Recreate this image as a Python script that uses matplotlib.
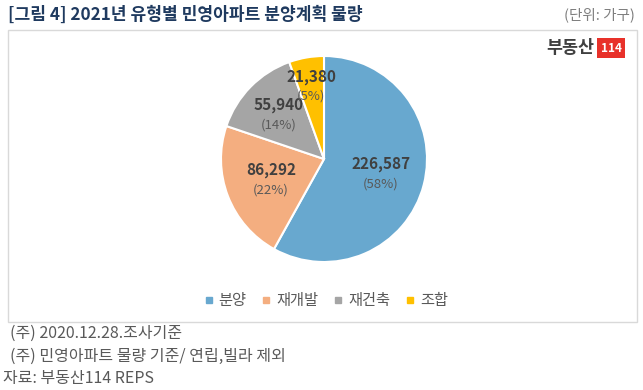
import numpy as np
import matplotlib.pyplot as plt
from matplotlib.patches import Rectangle

plt.rcParams['font.family'] = ['Noto Sans CJK KR', 'DejaVu Sans']

# 데이터
categories = ['분양', '재개발', '재건축', '조합']
values = [226587, 86292, 55940, 21380]
colors = ['#68A8CF', '#F4AE80', '#A5A5A5', '#FFC000']
label_r = [0.57, 0.55, 0.62, 0.72]

W, H = 643, 390
fig = plt.figure(figsize=(W / 100, H / 100), dpi=100)

def fx(px):
    return px / W

def fy(py):
    return 1 - py / H

# 차트 테두리
fig.patches.append(Rectangle((fx(7.5), fy(322)), fx(637) - fx(7.5), fy(30) - fy(322),
                             transform=fig.transFigure, fill=False,
                             edgecolor='#D9D9D9', lw=1.0))

# 제목
fig.text(fx(8), fy(15), '[그림 4] 2021년 유형별 민영아파트 분양계획 물량',
         fontsize=12.3, fontweight='bold', color='#1F3A5F', va='center', ha='left')
fig.text(fx(635), fy(15), '(단위: 가구)', fontsize=10.5, color='#7F7F7F',
         va='center', ha='right')

# 로고
fig.text(fx(594), fy(48), '부동산', fontsize=12.5, fontweight='bold', color='#404040',
         va='center', ha='right')
fig.text(fx(611), fy(48), '114', fontsize=8.5, fontweight='bold', color='white',
         va='center', ha='center',
         bbox=dict(boxstyle='square,pad=0.3', facecolor='#E8312A', edgecolor='none'))

# 파이
cx, cy, r = 324, 159, 103
ax = fig.add_axes([fx(cx - r), fy(cy + r), fx(2 * r), fy(cy - r) - fy(cy + r)])
wedges, _ = ax.pie(values, colors=colors, startangle=90, counterclock=False,
                   wedgeprops=dict(edgecolor='white', linewidth=1.5))
ax.set_xlim(-1, 1)
ax.set_ylim(-1, 1)
ax.set_aspect('equal')

total = sum(values)
for w, v, lr in zip(wedges, values, label_r):
    ang = np.deg2rad((w.theta1 + w.theta2) / 2)
    x, y = lr * np.cos(ang), lr * np.sin(ang)
    ax.text(x, y + 0.09, f'{v:,}', fontsize=11, fontweight='bold', color='#404040',
            ha='center', va='center')
    ax.text(x, y - 0.1, f'({round(v / total * 100)}%)', fontsize=9.5, color='#595959',
            ha='center', va='center')

# 범례
handles = [plt.Line2D([], [], marker='s', ls='', color=c, markersize=5) for c in colors]
fig.legend(handles, categories, loc='center', bbox_to_anchor=(fx(326), fy(301)),
           ncol=4, frameon=False, fontsize=11, handlelength=0.6, handletextpad=0.35,
           columnspacing=1.0, labelcolor='#595959')

# 주석
fig.text(fx(10), fy(333), '(주) 2020.12.28.조사기준', fontsize=11.5, color='#595959', va='center')
fig.text(fx(10), fy(356), '(주) 민영아파트 물량 기준/ 연립,빌라 제외', fontsize=11.5, color='#595959', va='center')
fig.text(fx(3), fy(378), '자료: 부동산114 REPS', fontsize=11.5, color='#595959', va='center')

fig.savefig('out.png', dpi=100)
